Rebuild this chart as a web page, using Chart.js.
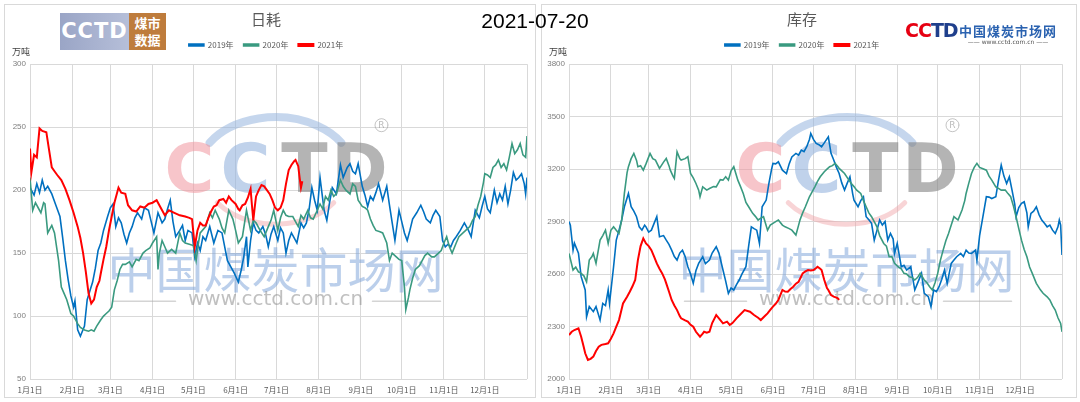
<!DOCTYPE html>
<html>
<head>
<meta charset="utf-8">
<script src="https://cdn.jsdelivr.net/npm/chart.js@4.4.0/dist/chart.umd.min.js"></script>
<style>
body { margin:0; width:1080px; height:402px; background:#fff; position:relative; overflow:hidden; font-family:"Noto Sans CJK SC", sans-serif; }
.panel { position:absolute; top:4px; height:394px; border:1px solid #d9d9d9; box-sizing:border-box; }
#p1 { left:4px; width:532px; }
#p2 { left:541px; width:536px; }
#date { position:absolute; top:9px; left:435px; width:200px; text-align:center; font:21px "Liberation Sans", Arial, sans-serif; color:#000; }
#logo1a { position:absolute; left:60px; top:13px; width:69px; height:37px; background:linear-gradient(90deg,#9aa5c6,#b6bfd9); color:#fff; font:bold 21px "DejaVu Sans", sans-serif; text-align:center; line-height:37px; letter-spacing:1px; }
#logo1b { position:absolute; left:129px; top:13px; width:37px; height:37px; background:#be7c3c; color:#fff; font:bold 13px "Noto Sans CJK SC"; text-align:center; line-height:17px; padding-top:1px; box-sizing:border-box; }
#logo2 { position:absolute; left:905px; top:19px; font:bold 19px "DejaVu Sans", sans-serif; letter-spacing:-1px; }
#logo2 .r { color:#e60012; } #logo2 .b { color:#1f3f8c; }
#logo2t { position:absolute; left:959px; top:21px; font:bold 13px "Noto Sans CJK SC"; color:#2a62b0; letter-spacing:1px; }
#logo2u { position:absolute; left:960px; top:38px; width:96px; text-align:center; font:6px "DejaVu Sans", sans-serif; color:#555; }
</style>
</head>
<body>
<div class="panel" id="p1"><canvas id="Chart1" width="530" height="392"></canvas></div>
<div class="panel" id="p2"><canvas id="Chart2" width="534" height="392"></canvas></div>
<div id="date">2021-07-20</div>
<div id="logo1a">CCTD</div>
<div id="logo1b">煤市<br>数据</div>
<div id="logo2"><span class="r">CC</span><span class="b">TD</span></div>
<div id="logo2t">中国煤炭市场网</div>
<div id="logo2u">—— www.cctd.com.cn ——</div>
<script>
// x axis: day of year, labelled at month starts
var monthDays = [0, 31, 59, 90, 120, 151, 181, 212, 243, 273, 304, 334];
var monthLabels = ["1月1日", "2月1日", "3月1日", "4月1日", "5月1日", "6月1日", "7月1日", "8月1日", "9月1日", "10月1日", "11月1日", "12月1日"];
var seriesNames = ["2019年", "2020年", "2021年"];
var seriesColors = ["#0070c0", "#3a9a80", "#ff0000"];

// 日耗 (万吨) [day, value]
var hao2019 = [[0,202],[3,196],[5,205],[7,198],[9,208],[11,200],[13,203],[16,197],[19,188],[22,179],[24,162],[26,144],[28,129],[30,116],[32,107],[33,112],[35,89],[37,84],[40,92],[42,113],[44,120],[46,127],[48,138],[50,152],[52,158],[54,168],[57,179],[59,186],[61,189],[63,171],[65,178],[67,174],[69,165],[71,158],[73,166],[75,171],[77,178],[79,182],[82,177],[84,186],[87,184],[89,175],[91,166],[94,182],[97,174],[99,177],[101,185],[103,192],[105,175],[107,163],[110,168],[112,172],[114,160],[116,168],[119,166],[121,147],[123,158],[125,152],[127,163],[129,160],[132,171],[135,158],[138,168],[141,166],[143,155],[145,144],[148,138],[150,134],[153,127],[155,136],[157,147],[159,163],[160,139],[162,160],[164,174],[166,168],[168,166],[171,171],[173,165],[175,155],[177,165],[179,171],[182,160],[184,170],[186,166],[188,150],[190,160],[192,166],[194,162],[196,158],[199,174],[201,170],[203,174],[205,185],[207,202],[209,192],[211,184],[213,210],[216,184],[218,176],[220,190],[222,202],[225,197],[228,220],[230,210],[233,218],[235,221],[237,215],[239,213],[241,221],[244,203],[246,196],[248,187],[250,195],[252,192],[254,198],[256,205],[259,192],[262,203],[264,188],[266,174],[268,160],[271,184],[273,175],[275,166],[277,160],[279,168],[281,177],[284,182],[287,188],[289,183],[291,177],[294,174],[296,180],[298,184],[301,179],[303,160],[305,155],[307,157],[309,155],[311,160],[313,163],[316,168],[319,174],[322,168],[324,163],[327,184],[330,178],[332,187],[334,195],[336,185],[338,182],[341,200],[343,190],[345,197],[347,192],[349,203],[351,189],[353,200],[355,214],[357,208],[359,210],[361,213],[363,205],[364,197],[365,210]];
var hao2020 = [[0,210],[2,184],[4,190],[6,186],[8,182],[10,190],[11,189],[13,166],[15,170],[16,172],[18,166],[21,144],[23,123],[25,118],[27,113],[30,102],[32,100],[35,94],[37,91],[40,89],[43,88],[45,89],[47,88],[49,92],[52,97],[54,100],[56,102],[58,104],[60,107],[62,121],[64,128],[66,137],[68,141],[70,141],[73,143],[75,139],[78,145],[80,144],[83,150],[85,152],[88,154],[90,158],[93,163],[94,137],[95,150],[97,160],[99,155],[101,150],[104,153],[107,150],[110,166],[112,160],[114,158],[117,157],[120,156],[122,144],[124,160],[125,166],[129,171],[132,182],[134,178],[136,184],[139,177],[141,170],[143,166],[146,184],[149,177],[151,168],[153,158],[156,163],[159,184],[162,168],[164,176],[166,174],[169,168],[172,163],[175,171],[177,176],[179,184],[182,168],[184,178],[186,184],[188,180],[190,179],[193,179],[195,175],[197,171],[199,180],[201,177],[204,184],[206,178],[208,177],[211,184],[213,189],[215,185],[217,195],[219,192],[221,200],[223,195],[225,197],[228,208],[230,203],[232,200],[235,197],[237,205],[239,203],[241,192],[244,187],[246,186],[248,184],[250,177],[252,172],[254,168],[257,167],[259,166],[262,158],[264,144],[266,150],[269,147],[271,145],[273,144],[275,123],[276,105],[278,115],[279,121],[281,130],[283,137],[286,140],[288,144],[290,148],[292,150],[295,147],[297,147],[300,150],[302,152],[304,158],[306,163],[308,155],[310,150],[313,158],[315,163],[318,166],[320,168],[323,171],[325,176],[327,179],[329,188],[331,195],[333,206],[334,213],[336,212],[338,210],[340,218],[342,220],[344,224],[346,218],[348,221],[350,216],[352,226],[354,237],[356,229],[358,232],[360,237],[362,228],[364,226],[365,243]];
var hao2021 = [[0,233],[1,214],[3,228],[5,226],[7,249],[9,247],[12,246],[14,232],[16,218],[18,215],[20,212],[23,208],[26,201],[29,192],[32,182],[35,171],[37,162],[39,150],[41,135],[43,118],[45,110],[47,113],[49,123],[51,128],[52,134],[54,145],[56,155],[58,168],[60,179],[62,190],[65,202],[67,198],[70,197],[72,188],[75,184],[78,183],[81,187],[84,186],[87,189],[90,190],[93,192],[96,186],[99,180],[102,184],[106,182],[110,180],[114,179],[117,178],[119,177],[121,155],[123,168],[125,174],[127,172],[129,172],[131,178],[133,183],[135,187],[137,188],[139,192],[142,193],[144,190],[146,195],[148,192],[151,189],[153,185],[154,184],[156,188],[158,189],[160,194],[162,201],[163,188],[164,176],[165,186],[166,195],[168,200],[170,204],[172,203],[174,200],[176,197],[178,192],[180,186],[182,184],[184,186],[186,192],[188,205],[190,216],[192,220],[194,223],[195,224],[197,219],[198,210],[199,202],[200,207]];

// 库存 (万吨) [day, value]
var kc2019 = [[0,2900],[1,2880],[3,2737],[4,2777],[7,2720],[9,2585],[12,2509],[13,2356],[15,2414],[18,2385],[20,2414],[23,2337],[25,2432],[27,2420],[29,2509],[30,2432],[33,2642],[35,2794],[37,2850],[39,2909],[41,2985],[44,3061],[46,2985],[48,2960],[50,2928],[52,2870],[54,2851],[56,2880],[57,2870],[59,2840],[61,2851],[63,2890],[65,2928],[67,2813],[70,2820],[72,2794],[74,2770],[76,2737],[78,2700],[80,2680],[82,2720],[84,2737],[86,2700],[88,2642],[90,2600],[92,2547],[94,2620],[96,2661],[99,2699],[101,2660],[104,2680],[106,2720],[109,2756],[111,2720],[114,2623],[116,2560],[118,2490],[120,2520],[122,2509],[124,2540],[126,2566],[128,2600],[131,2642],[133,2760],[135,2870],[137,2860],[139,2851],[141,2775],[143,2985],[146,3023],[148,3118],[150,3200],[151,3233],[153,3230],[155,3242],[157,3210],[158,3194],[161,3175],[163,3230],[165,3270],[168,3290],[170,3280],[172,3309],[174,3300],[176,3328],[178,3370],[179,3404],[181,3370],[183,3347],[185,3340],[187,3328],[189,3350],[192,3385],[194,3290],[196,3252],[198,3210],[200,3175],[202,3120],[204,3080],[206,3120],[208,3156],[210,3060],[211,3023],[214,2985],[216,3020],[218,3042],[220,2928],[222,2910],[224,2890],[226,2794],[228,2850],[230,2909],[232,2880],[234,2900],[236,2794],[238,2832],[240,2800],[241,2718],[243,2775],[246,2642],[248,2650],[250,2623],[253,2642],[256,2509],[258,2547],[261,2604],[263,2490],[266,2471],[268,2414],[270,2509],[272,2500],[274,2528],[276,2570],[278,2623],[280,2547],[283,2661],[285,2680],[287,2699],[290,2718],[292,2700],[294,2737],[296,2720],[298,2718],[301,2737],[302,2680],[304,2820],[306,2909],[309,3042],[311,3040],[313,3032],[316,3042],[318,3137],[320,3223],[322,3160],[324,3118],[326,3156],[328,3080],[330,3000],[331,2928],[333,2980],[335,3004],[337,3013],[339,2950],[340,2870],[342,2947],[344,2960],[346,2985],[348,2940],[350,2909],[352,2890],[354,2870],[356,2880],[358,2851],[360,2832],[362,2870],[363,2909],[364,2880],[365,2709]];
var kc2020 = [[0,2718],[3,2623],[5,2640],[7,2613],[9,2604],[11,2590],[13,2556],[15,2680],[17,2700],[18,2718],[20,2661],[23,2794],[25,2820],[27,2851],[29,2775],[31,2850],[33,2870],[35,2850],[37,2832],[39,2909],[41,3061],[43,3180],[44,3214],[46,3260],[48,3290],[50,3250],[51,3214],[53,3220],[55,3194],[57,3230],[60,3290],[62,3260],[64,3252],[66,3220],[67,3204],[70,3240],[72,3261],[74,3220],[75,3194],[77,3160],[78,3147],[80,3299],[82,3260],[83,3252],[86,3260],[88,3271],[90,3175],[92,3150],[94,3118],[96,3080],[97,3042],[99,3099],[102,3080],[104,3089],[107,3100],[109,3099],[112,3140],[114,3137],[116,3156],[118,3137],[120,3190],[122,3214],[125,3137],[127,3100],[129,3061],[131,3010],[133,2985],[136,2947],[138,2930],[140,2909],[142,2920],[144,2928],[147,2851],[149,2880],[151,2890],[153,2900],[155,2909],[158,2880],[160,2870],[163,2860],[165,2851],[168,2823],[170,2880],[171,2909],[173,2950],[175,2985],[178,3042],[180,3070],[182,3099],[184,3130],[186,3156],[189,3185],[191,3200],[193,3214],[195,3220],[197,3233],[199,3215],[200,3204],[202,3190],[204,3175],[207,3140],[209,3118],[211,3100],[213,3080],[216,3061],[218,3020],[220,2985],[222,2950],[224,2928],[226,2900],[228,2870],[230,2820],[233,2775],[235,2760],[237,2699],[239,2700],[241,2661],[244,2640],[246,2630],[248,2604],[250,2600],[252,2585],[254,2580],[256,2566],[258,2580],[260,2604],[263,2566],[265,2550],[267,2528],[269,2509],[271,2550],[273,2604],[275,2680],[277,2737],[279,2790],[281,2832],[283,2880],[285,2928],[288,2909],[291,2966],[293,3020],[294,3061],[296,3120],[298,3175],[300,3210],[302,3233],[304,3210],[306,3204],[309,3194],[311,3160],[313,3137],[316,3099],[318,3090],[320,3080],[323,3080],[325,3060],[327,3042],[329,2990],[331,2928],[333,2860],[335,2794],[337,2740],[339,2699],[341,2640],[343,2604],[346,2547],[349,2510],[351,2490],[354,2470],[356,2452],[358,2420],[360,2394],[362,2350],[364,2318],[365,2270]];
var kc2021 = [[0,2251],[2,2270],[4,2280],[7,2290],[9,2242],[11,2180],[12,2147],[14,2109],[16,2115],[18,2128],[20,2160],[22,2185],[24,2195],[27,2200],[29,2204],[31,2230],[33,2261],[35,2300],[37,2337],[39,2400],[40,2432],[43,2470],[45,2499],[47,2530],[49,2566],[51,2680],[53,2760],[55,2804],[57,2775],[59,2760],[61,2737],[63,2700],[65,2661],[67,2630],[69,2604],[71,2570],[72,2547],[74,2500],[76,2452],[78,2420],[80,2394],[82,2360],[83,2347],[86,2335],[88,2328],[90,2310],[92,2299],[94,2270],[97,2242],[99,2260],[100,2270],[102,2265],[104,2270],[106,2320],[109,2366],[111,2347],[114,2318],[117,2328],[119,2309],[121,2320],[124,2347],[127,2370],[130,2394],[134,2385],[137,2366],[140,2350],[142,2337],[145,2360],[147,2375],[149,2395],[151,2414],[153,2430],[155,2452],[157,2490],[158,2509],[160,2500],[162,2499],[164,2515],[166,2528],[168,2545],[170,2556],[173,2604],[175,2615],[177,2623],[179,2620],[181,2623],[183,2635],[184,2642],[186,2630],[187,2623],[189,2566],[191,2520],[192,2509],[194,2480],[196,2471],[198,2465],[199,2461],[200,2452]];

function toPoints(arr) {
    return arr.map(function (p) { return {x: p[0], y: p[1]}; });
}

// light CCTD watermark in the plot area
var watermarkPlugin = {
    id: 'watermark',
    beforeDatasetsDraw: function (chart, args, opts) {
        var ctx = chart.ctx;
        var a = chart.chartArea;
        var cx = (a.left + a.right) / 2 + (opts.offsetX || 0);
        var top = a.top;
        ctx.save();
        ctx.lineCap = 'round';
        ctx.strokeStyle = 'rgba(150,180,222,0.55)';
        ctx.lineWidth = 8;
        ctx.beginPath();
        ctx.ellipse(cx, top + 108, 78, 55, 0, Math.PI * 1.18, Math.PI * 1.82);
        ctx.stroke();
        ctx.strokeStyle = 'rgba(240,160,165,0.45)';
        ctx.lineWidth = 5;
        ctx.beginPath();
        ctx.ellipse(cx, top + 108, 72, 52, 0, Math.PI * 0.2, Math.PI * 0.8);
        ctx.stroke();

        ctx.textAlign = 'center';
        ctx.textBaseline = 'middle';
        ctx.font = 'bold 68px "DejaVu Sans"';
        var letters = [['C', -86, 'rgba(240,150,158,0.55)'], ['C', -30, 'rgba(150,180,222,0.6)'], ['T', 29, 'rgba(130,130,130,0.6)'], ['D', 84, 'rgba(130,130,130,0.6)']];
        letters.forEach(function (l) {
            ctx.fillStyle = l[2];
            ctx.fillText(l[0], cx + l[1], top + 110);
        });
        ctx.strokeStyle = 'rgba(140,140,140,0.5)';
        ctx.lineWidth = 1;
        ctx.beginPath();
        ctx.arc(cx + 106, top + 61, 6.5, 0, Math.PI * 2);
        ctx.stroke();
        ctx.fillStyle = 'rgba(140,140,140,0.6)';
        ctx.font = '9px "DejaVu Sans"';
        ctx.fillText('R', cx + 106, top + 61);

        ctx.fillStyle = 'rgba(120,160,215,0.5)';
        ctx.font = '48px "Noto Sans CJK SC"';
        ctx.fillText('中国煤炭市场网', cx, top + 206);

        ctx.font = '20px "DejaVu Sans"';
        ctx.fillStyle = 'rgba(140,140,140,0.55)';
        ctx.fillText('www.cctd.com.cn', cx, top + 236);
        ctx.strokeStyle = 'rgba(170,170,170,0.5)';
        ctx.lineWidth = 1.5;
        ctx.beginPath();
        ctx.moveTo(cx - 162, top + 237); ctx.lineTo(cx - 100, top + 237);
        ctx.moveTo(cx + 97, top + 237); ctx.lineTo(cx + 165, top + 237);
        ctx.stroke();
        ctx.restore();
    }
};

// "万吨" unit label above the y axis
var unitPlugin = {
    id: 'unitLabel',
    afterDraw: function (chart, args, opts) {
        var ctx = chart.ctx;
        ctx.save();
        ctx.fillStyle = '#404040';
        ctx.font = '9px "Noto Sans CJK SC"';
        ctx.textAlign = 'center';
        ctx.textBaseline = 'middle';
        ctx.fillText('万吨', opts.x, opts.y);
        ctx.restore();
    }
};

function drawPanel(canvasId, title, seriesList, yMin, yMax, yStep, yWidth, padRight, wmOffset) {
    var ctx = document.getElementById(canvasId);
    var datasets = seriesList.map(function (s, i) {
        return {
            label: seriesNames[i],
            data: toPoints(s),
            borderColor: seriesColors[i],
            backgroundColor: seriesColors[i],
            borderWidth: i == 2 ? 2 : 1.6,
            pointRadius: 0,
            tension: 0,
            order: 2 - i
        };
    });
    return new Chart(ctx, {
        type: 'line',
        data: {datasets: datasets},
        plugins: [watermarkPlugin, unitPlugin],
        options: {
            responsive: false,
            animation: false,
            layout: {padding: {left: 0, right: padRight, top: 0, bottom: 0}},
            scales: {
                x: {
                    type: 'linear',
                    min: 0,
                    max: 365,
                    afterBuildTicks: function (axis) {
                        axis.ticks = monthDays.concat([365]).map(function (v) { return {value: v}; });
                    },
                    afterFit: function (scale) { scale.height = 18; },
                    ticks: {
                        autoSkip: false,
                        maxRotation: 0,
                        padding: 6,
                        color: '#595959',
                        font: {size: 8, family: '"Noto Sans CJK SC"'},
                        callback: function (value) {
                            var k = monthDays.indexOf(value);
                            return k >= 0 ? monthLabels[k] : '';
                        }
                    },
                    grid: {color: '#d9d9d9', drawTicks: false},
                    border: {display: false}
                },
                y: {
                    min: yMin,
                    max: yMax,
                    afterFit: function (scale) { scale.width = yWidth; },
                    ticks: {
                        stepSize: yStep,
                        padding: 4,
                        color: '#7f7f7f',
                        font: {size: 8, family: '"Liberation Sans"'},
                        callback: function (value) { return value.toString(); }
                    },
                    grid: {color: '#d9d9d9', drawTicks: false},
                    border: {display: false}
                }
            },
            plugins: {
                title: {
                    display: true,
                    text: title,
                    color: '#595959',
                    font: {size: 15, weight: 'normal', family: '"Noto Sans CJK SC"'},
                    padding: {top: 5, bottom: 3}
                },
                // empty subtitle placed under the legend as a small spacer
                subtitle: {
                    display: true,
                    text: '',
                    weight: 500,
                    font: {size: 1},
                    padding: {top: 4, bottom: 0}
                },
                legend: {
                    display: true,
                    labels: {
                        boxWidth: 15,
                        boxHeight: 2,
                        padding: 10,
                        color: '#595959',
                        font: {size: 8, family: '"Noto Sans CJK SC"'},
                        sort: function (a, b) { return a.datasetIndex - b.datasetIndex; }
                    }
                },
                tooltip: {enabled: false},
                watermark: {offsetX: wmOffset},
                unitLabel: {x: 16, y: 47}
            }
        }
    });
}

var crt1 = drawPanel('Chart1', '日耗', [hao2019, hao2020, hao2021], 50, 300, 50, 25, 8, -3);
var crt2 = drawPanel('Chart2', '库存', [kc2019, kc2020, kc2021], 2000, 3800, 300, 27, 14, 31);
</script>
</body>
</html>
